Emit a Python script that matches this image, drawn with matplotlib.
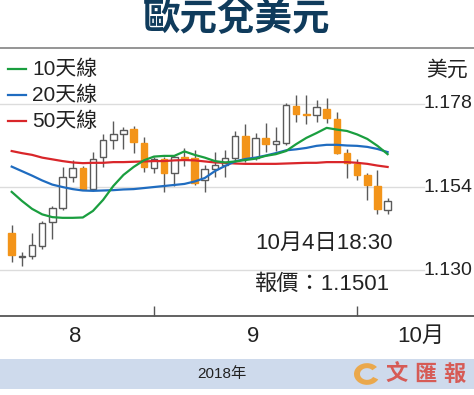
import matplotlib
matplotlib.use('Agg')
import matplotlib.pyplot as plt
from matplotlib.lines import Line2D
from matplotlib.patches import Rectangle, Wedge
import matplotlib.transforms as mtrans

# ---------------- data ----------------
opens  = [1.1406, 1.1338, 1.1342, 1.1371, 1.1440, 1.1479, 1.1569, 1.1594, 1.1534, 1.1628,
          1.1676, 1.1693, 1.1707, 1.1668, 1.1594, 1.1620, 1.1580, 1.1628, 1.1623, 1.1560,
          1.1591, 1.1604, 1.1623, 1.1688, 1.1623, 1.1681, 1.1664, 1.1668, 1.1774, 1.1751,
          1.1747, 1.1765, 1.1736, 1.1639, 1.1607, 1.1575, 1.1543, 1.1474]
highs  = [1.1430, 1.1353, 1.1406, 1.1443, 1.1484, 1.1599, 1.1618, 1.1600, 1.1640, 1.1693,
          1.1731, 1.1714, 1.1716, 1.1686, 1.1628, 1.1628, 1.1633, 1.1653, 1.1646, 1.1604,
          1.1642, 1.1647, 1.1703, 1.1721, 1.1697, 1.1724, 1.1714, 1.1784, 1.1805, 1.1806,
          1.1792, 1.1796, 1.1758, 1.1649, 1.1620, 1.1581, 1.1590, 1.1507]
lows   = [1.1324, 1.1312, 1.1331, 1.1362, 1.1391, 1.1475, 1.1554, 1.1531, 1.1529, 1.1597,
          1.1649, 1.1649, 1.1639, 1.1584, 1.1581, 1.1527, 1.1543, 1.1601, 1.1547, 1.1525,
          1.1568, 1.1568, 1.1613, 1.1613, 1.1618, 1.1642, 1.1644, 1.1661, 1.1729, 1.1722,
          1.1729, 1.1726, 1.1636, 1.1565, 1.1560, 1.1503, 1.1463, 1.1462]
closes = [1.1344, 1.1341, 1.1373, 1.1437, 1.1480, 1.1568, 1.1595, 1.1534, 1.1621, 1.1677,
          1.1692, 1.1706, 1.1671, 1.1599, 1.1620, 1.1581, 1.1628, 1.1621, 1.1553, 1.1591,
          1.1604, 1.1623, 1.1688, 1.1623, 1.1681, 1.1664, 1.1673, 1.1777, 1.1751, 1.1749,
          1.1770, 1.1739, 1.1639, 1.1610, 1.1575, 1.1546, 1.1476, 1.1501]

ma10 = [1.1526, 1.1500, 1.1477, 1.1461, 1.1453, 1.1451, 1.1451, 1.1452, 1.1471, 1.1503,
        1.1543, 1.1575, 1.1598, 1.1617, 1.1628, 1.1630, 1.1630, 1.1643, 1.1633, 1.1625,
        1.1615, 1.1611, 1.1614, 1.1618, 1.1622, 1.1630, 1.1635, 1.1644, 1.1664, 1.1682,
        1.1696, 1.1711, 1.1706, 1.1702, 1.1692, 1.1679, 1.1659, 1.1635]
ma20 = [1.1599, 1.1586, 1.1573, 1.1559, 1.1547, 1.1540, 1.1534, 1.1530, 1.1529, 1.1530,
        1.1531, 1.1533, 1.1534, 1.1537, 1.1540, 1.1543, 1.1546, 1.1549, 1.1556, 1.1566,
        1.1586, 1.1601, 1.1614, 1.1621, 1.1625, 1.1631, 1.1638, 1.1646, 1.1649, 1.1653,
        1.1659, 1.1662, 1.1662, 1.1660, 1.1659, 1.1656, 1.1650, 1.1641]
ma50 = [1.1644, 1.1638, 1.1633, 1.1625, 1.1620, 1.1615, 1.1611, 1.1609, 1.1610, 1.1610,
        1.1612, 1.1612, 1.1613, 1.1614, 1.1615, 1.1615, 1.1617, 1.1618, 1.1617, 1.1614,
        1.1611, 1.1610, 1.1608, 1.1607, 1.1607, 1.1607, 1.1607, 1.1608, 1.1609, 1.1610,
        1.1610, 1.1612, 1.1612, 1.1612, 1.1610, 1.1607, 1.1602, 1.1598]

ma_labels = ['10天線', '20天線', '50天線']
month_labels = ['8', '9', '10月']
month_first_idx = [14, 34]          # first trading day of Sep / Oct
y_ticks = [1.130, 1.154, 1.178]
title = '歐元兌美元'
note_lines = ['10月4日18:30', '報價：1.1501']
year_label = '2018年'

# ---------------- styling ----------------
W, H = 474, 395
CJK = ['Liberation Sans Narrow', 'Liberation Sans', 'Noto Sans CJK TC']
GREEN, BLUE, RED = '#1a9e3f', '#1f6cc0', '#d9262a'
ORANGE = '#f39419'
GRAY = '#5a5a5a'

fig = plt.figure(figsize=(W / 100, H / 100), dpi=100)
fig.patch.set_facecolor('white')

ax = fig.add_axes([0, 79 / H, 1, 268 / H])
px_per_idx = 10.16
x0_px = 11.7
ax.set_xlim(-x0_px / px_per_idx, (W - x0_px) / px_per_idx)
ax.set_ylim(1.11673, 1.19418)
for s in ['top', 'left', 'right']:
    ax.spines[s].set_visible(False)
ax.spines['bottom'].set_color('#555555')
ax.spines['bottom'].set_linewidth(1.3)
ax.set_xticks(month_first_idx)
ax.tick_params(axis='x', direction='in', length=7, width=1, color='#555555',
               labelbottom=False)
ax.set_yticks([])
ax.set_facecolor('none')

blend = mtrans.blended_transform_factory(ax.transAxes, ax.transData)
for v in y_ticks:
    ax.axhline(v, xmin=0, xmax=424 / W, color='#dcdcdc', lw=1, zorder=0)
    ax.text(448 / W, v, f'{v:.3f}', transform=blend, ha='center', va='center',
            fontsize=14, family=CJK, color='#222222')

# candles
bw = 0.64
for i, (o, h, l, c) in enumerate(zip(opens, highs, lows, closes)):
    up = c >= o
    ax.vlines(i, l, h, color=GRAY, lw=1, zorder=2)
    bottom = min(o, c)
    height = max(abs(c - o), 0.00004)
    if up:
        ax.add_patch(Rectangle((i - bw / 2, bottom), bw, height, facecolor='white',
                               edgecolor=GRAY, lw=1, zorder=3))
    else:
        ax.add_patch(Rectangle((i - bw / 2, bottom), bw, height, facecolor=ORANGE,
                               edgecolor=ORANGE, lw=1, zorder=3))

idx = list(range(len(closes)))
ax.plot(idx, ma50, color=RED, lw=1.6, zorder=4)
ax.plot(idx, ma20, color=BLUE, lw=1.6, zorder=4)
ax.plot(idx, ma10, color=GREEN, lw=1.6, zorder=4)

# month labels
for lab, xp in zip(month_labels, [75, 253, 421]):
    fig.text(xp / W, 1 - 336 / H, lab, ha='center', va='center', fontsize=16,
             family=CJK, color='#222222')

# title and separator
fig.text(0.5, 1 - 19 / H, title, ha='center', va='center', fontsize=27,
         fontweight='bold', family=['Noto Sans CJK TC'], color='#0f3b5c')
fig.add_artist(Line2D([0, 1], [1 - 48 / H] * 2, transform=fig.transFigure,
                      color='#8c8c8c', lw=1.3))

# legend
for k, (lab, col) in enumerate(zip(ma_labels, [GREEN, BLUE, RED])):
    yy = 1 - (69 + 26 * k) / H
    fig.add_artist(Line2D([8 / W, 26 / W], [yy, yy], transform=fig.transFigure,
                          color=col, lw=1.6))
    fig.text(32 / W, yy, lab, ha='left', va='center', fontsize=15, family=CJK,
             color='#222222')

# unit
fig.text(447 / W, 1 - 70 / H, '美元', ha='center', va='center', fontsize=15,
         family=CJK, color='#222222')

# note
fig.text(255 / W, 1 - 243 / H, note_lines[0], ha='left', va='center', fontsize=16,
         family=CJK, color='#222222')
fig.text(255 / W, 1 - 284 / H, note_lines[1], ha='left', va='center', fontsize=16,
         family=CJK, color='#222222')

# bottom band
fig.add_artist(Rectangle((0, 1 - 389 / H), 1, 30 / H, transform=fig.transFigure,
                         facecolor='#cedaec', edgecolor='none'))
fig.text(222 / W, 1 - 374 / H, year_label, ha='center', va='center', fontsize=11,
         family=CJK, color='#222222')

# watermark logo
fig.add_artist(Wedge((367 / W, 1 - 374 / H), 13 / W, 40, 330, width=6 / W,
                     transform=fig.transFigure, facecolor='#f0a030',
                     edgecolor='none', alpha=0.85))
for ch, xp in zip('文匯報', [397, 425, 454]):
    fig.text(xp / W, 1 - 374 / H, ch, ha='center', va='center', fontsize=16,
             fontweight='bold', family=['Noto Sans CJK TC'], color='#d8453c',
             alpha=0.85)

fig.savefig('out.png', dpi=100)
